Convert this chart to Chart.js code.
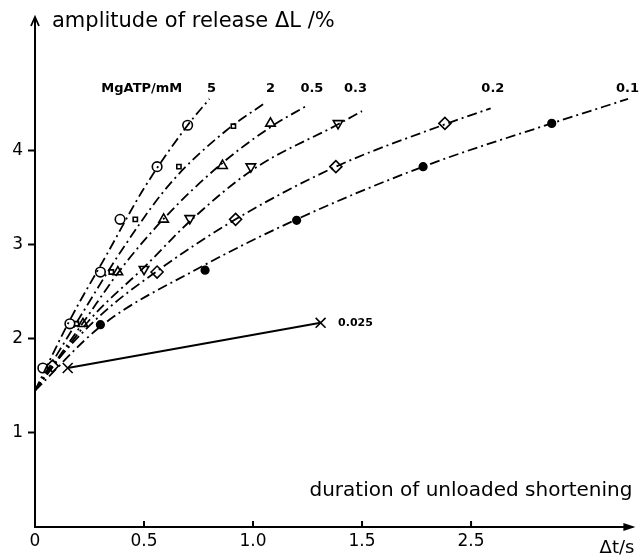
<!DOCTYPE html>
<html lang="en">
<head>
<meta charset="UTF-8">
<title>Amplitude of release vs duration of unloaded shortening</title>
<script src="https://cdn.jsdelivr.net/npm/chart.js"></script>
<style>
  html, body { margin: 0; padding: 0; background: #fff; }
</style>
</head>
<body>
<canvas id="releaseChart" width="641" height="557"></canvas>
<script>
// values: x = duration of unloaded shortening (s), y = amplitude of release (%)
const xTickPos = [0, 0.5, 1.0, 1.5, 2.0];
const xTickLabels = ['0', '0.5', '1.0', '1.5', '2.5'];
const yTickPos = [1, 2, 3, 4];

// MgATP 5 mM (open circles)
const x5 = [0.036, 0.16, 0.30, 0.39, 0.56, 0.70];
const y5 = [1.69, 2.16, 2.71, 3.27, 3.83, 4.27];
// 2 mM (small squares)
const x2 = [0.19, 0.35, 0.46, 0.66, 0.91];
const y2 = [2.16, 2.71, 3.27, 3.83, 4.26];
// 0.5 mM (triangles)
const x05 = [0.22, 0.38, 0.59, 0.86, 1.08];
const y05 = [2.16, 2.71, 3.27, 3.84, 4.29];
// 0.3 mM (inverted triangles)
const x03 = [0.50, 0.71, 0.99, 1.39];
const y03 = [2.74, 3.28, 3.83, 4.29];
// 0.2 mM (diamonds)
const x02 = [0.08, 0.56, 0.92, 1.38, 1.88];
const y02 = [1.71, 2.71, 3.27, 3.83, 4.29];
// 0.1 mM (filled circles)
const x01 = [0.30, 0.78, 1.20, 1.78, 2.37];
const y01 = [2.15, 2.73, 3.26, 3.83, 4.29];
// 0.025 mM (crosses, solid line)
const x0025 = [0.15, 1.31];
const y0025 = [1.69, 2.17];

// dash-dot fitted curves (from the y axis up to under its label)
const fit5X = [0, 0.16, 0.33, 0.50, 0.70, 0.80];
const fit5Y = [1.45, 2.20, 2.90, 3.60, 4.27, 4.55];
const fit2X = [0, 0.19, 0.40, 0.62, 0.88, 1.05];
const fit2Y = [1.45, 2.17, 2.95, 3.65, 4.22, 4.50];
const fit05X = [0, 0.22, 0.40, 0.60, 0.85, 1.08, 1.24];
const fit05Y = [1.45, 2.17, 2.76, 3.30, 3.85, 4.25, 4.47];
const fit03X = [0, 0.25, 0.50, 0.72, 1.00, 1.39, 1.50];
const fit03Y = [1.45, 2.20, 2.76, 3.27, 3.80, 4.28, 4.42];
const fit02X = [0, 0.08, 0.30, 0.56, 0.92, 1.38, 1.88, 2.09];
const fit02Y = [1.45, 1.71, 2.25, 2.72, 3.27, 3.83, 4.28, 4.45];
const fit01X = [0, 0.30, 0.75, 1.20, 1.78, 2.37, 2.72];
const fit01Y = [1.45, 2.13, 2.75, 3.27, 3.83, 4.29, 4.55];

const pts = (xs, ys) => xs.map((x, i) => ({ x: x, y: ys[i] }));

const series = [
  { xs: x5, ys: y5, fx: fit5X, fy: fit5Y, style: 'circle', r: 4.8, fill: '#fff', rot: 0 },
  { xs: x2, ys: y2, fx: fit2X, fy: fit2Y, style: 'rect', r: 3, fill: '#fff', rot: 0 },
  { xs: x05, ys: y05, fx: fit05X, fy: fit05Y, style: 'triangle', r: 5.5, fill: '#fff', rot: 0 },
  { xs: x03, ys: y03, fx: fit03X, fy: fit03Y, style: 'triangle', r: 5.5, fill: '#fff', rot: 180 },
  { xs: x02, ys: y02, fx: fit02X, fy: fit02Y, style: 'rectRot', r: 6, fill: '#fff', rot: 0 },
  { xs: x01, ys: y01, fx: fit01X, fy: fit01Y, style: 'circle', r: 3.8, fill: '#000', rot: 0 }
];

const datasets = [];
series.forEach(s => {
  datasets.push({
    data: pts(s.fx, s.fy),
    showLine: true,
    borderColor: '#000',
    borderWidth: 1.8,
    borderDash: [10, 4, 2, 4],
    cubicInterpolationMode: 'monotone',
    pointRadius: 0
  });
});
series.forEach(s => {
  datasets.push({
    data: pts(s.xs, s.ys),
    showLine: false,
    pointStyle: s.style,
    pointRadius: s.r,
    rotation: s.rot,
    pointBackgroundColor: s.fill,
    pointBorderColor: '#000',
    pointBorderWidth: 1.6
  });
});
datasets.push({
  data: pts(x0025, y0025),
  showLine: true,
  borderColor: '#000',
  borderWidth: 2,
  pointStyle: 'crossRot',
  pointRadius: 7,
  pointBorderColor: '#000',
  pointBorderWidth: 1.6
});

const textLabels = [
  { text: 'MgATP/mM', x: 0.49, y: 4.66, align: 'center' },
  { text: '5', x: 0.81, y: 4.66, align: 'center' },
  { text: '2', x: 1.08, y: 4.66, align: 'center' },
  { text: '0.5', x: 1.27, y: 4.66, align: 'center' },
  { text: '0.3', x: 1.47, y: 4.66, align: 'center' },
  { text: '0.2', x: 2.10, y: 4.66, align: 'center' },
  { text: '0.1', x: 2.77, y: 4.66, align: 'right' },
  { text: '0.025', x: 1.39, y: 2.17, align: 'left' }
];

const decor = {
  id: 'decor',
  afterDraw(chart) {
    const c = chart.ctx, xs = chart.scales.x, ys = chart.scales.y, a = chart.chartArea;
    c.save();
    c.fillStyle = '#000';
    c.strokeStyle = '#000';
    // y axis arrow head
    c.lineWidth = 1.8;
    c.beginPath();
    c.moveTo(a.left - 4, a.top + 8);
    c.lineTo(a.left, a.top - 1);
    c.lineTo(a.left + 4, a.top + 8);
    c.stroke();
    // x axis arrow head
    c.beginPath();
    c.moveTo(a.right + 3, a.bottom);
    c.lineTo(a.right - 9, a.bottom - 4);
    c.lineTo(a.right - 9, a.bottom + 4);
    c.closePath();
    c.fill();
    // inward x ticks
    c.lineWidth = 2;
    xTickPos.slice(1).forEach(v => {
      const px = xs.getPixelForValue(v);
      c.beginPath();
      c.moveTo(px, a.bottom);
      c.lineTo(px, a.bottom - 6);
      c.stroke();
    });
    // axis titles
    c.textBaseline = 'middle';
    c.font = '21px "DejaVu Sans"';
    c.textAlign = 'left';
    c.fillText('amplitude of release \u0394L /%', a.left + 17, 22);
    c.font = '20px "DejaVu Sans"';
    c.textAlign = 'right';
    c.fillText('duration of unloaded shortening', a.right, 491);
    c.font = '18px "DejaVu Sans"';
    c.fillText('\u0394t/s', a.right + 2, 548);
    // series labels
    textLabels.forEach(t => {
      c.textAlign = t.align;
      c.font = t.text === '0.025' ? 'bold 11px "DejaVu Sans"' : 'bold 13px "DejaVu Sans"';
      c.fillText(t.text, xs.getPixelForValue(t.x), ys.getPixelForValue(t.y));
    });
    c.restore();
  }
};

new Chart(document.getElementById('releaseChart'), {
  type: 'scatter',
  data: { datasets: datasets },
  options: {
    responsive: false,
    animation: false,
    devicePixelRatio: 1,
    layout: { padding: { top: 18, right: 4, left: 0, bottom: 0 } },
    plugins: { legend: { display: false }, tooltip: { enabled: false } },
    scales: {
      x: {
        type: 'linear', min: 0, max: 2.74,
        afterBuildTicks: s => { s.ticks = xTickPos.map(v => ({ value: v })); },
        afterFit: s => { s.height = 30; },
        ticks: {
          color: '#000', font: { family: 'DejaVu Sans', size: 17 }, padding: 4,
          maxRotation: 0, autoSkip: false,
          callback: (v, i) => xTickLabels[i]
        },
        grid: { drawOnChartArea: false, drawTicks: false },
        border: { color: '#000', width: 2 }
      },
      y: {
        type: 'linear', min: 0, max: 5.41,
        afterBuildTicks: s => { s.ticks = yTickPos.map(v => ({ value: v })); },
        afterFit: s => { s.width = 35; },
        ticks: { color: '#000', font: { family: 'DejaVu Sans', size: 17 }, padding: 5 },
        grid: { drawOnChartArea: false, tickLength: 7, tickColor: '#000', tickWidth: 2 },
        border: { color: '#000', width: 2 }
      }
    }
  },
  plugins: [decor]
});
</script>
</body>
</html>
